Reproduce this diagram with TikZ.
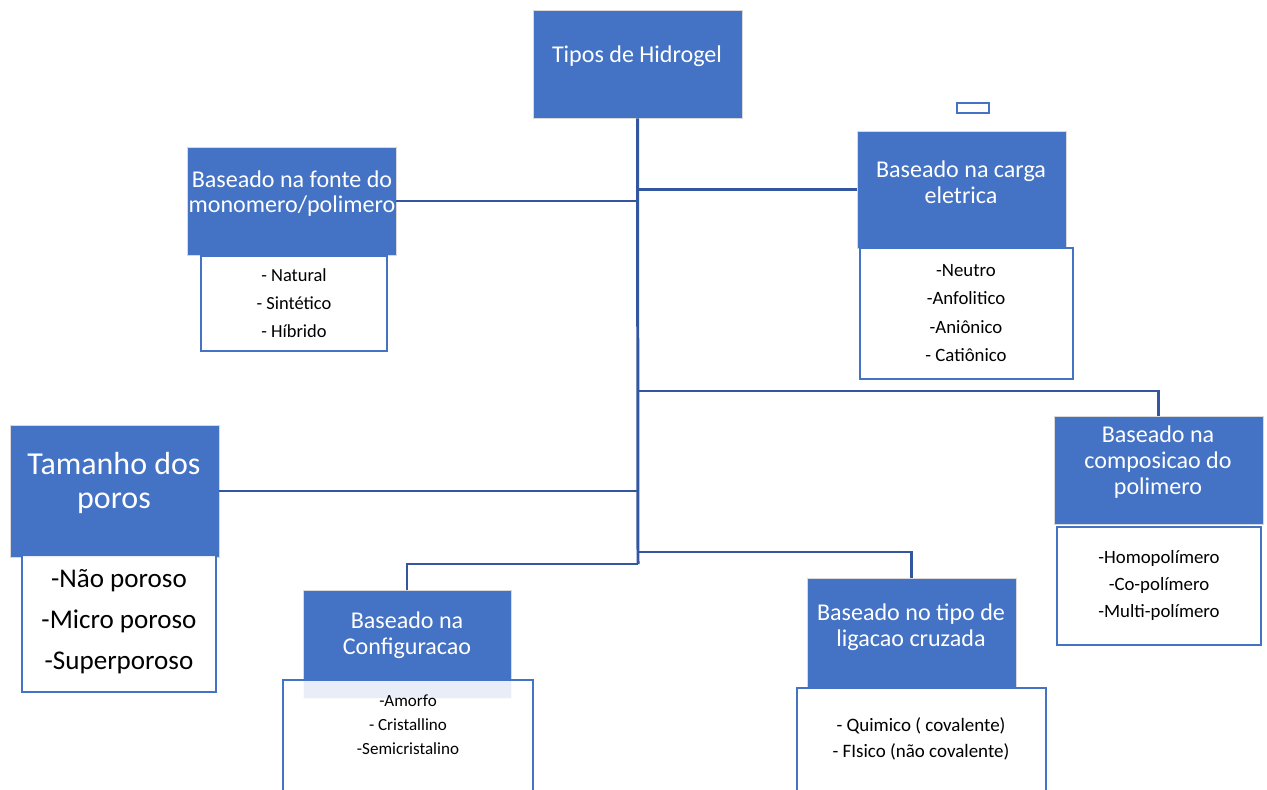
\documentclass[tikz,border=0pt]{standalone}
\usepackage{fontspec}
\setmainfont{Carlito}
\usetikzlibrary{positioning,calc}
\definecolor{hdblue}{RGB}{68,114,196}
\definecolor{hdline}{RGB}{50,86,160}
\newlength\pxu
\setlength\pxu{0.02cm}
\tikzset{
  bluebox/.style={draw=black!15, line width=0.5pt, fill=hdblue, inner sep=0pt, minimum width=209\pxu},
  listbox/.style={draw=hdblue, line width=1.2pt, fill=white, fill opacity=.88, inner sep=0pt},
  headtxt/.style={text=white, align=center, font=\fontsize{13.7}{14.7}\selectfont},
  itemtxt/.style={align=center},
  link/.style={draw=hdline, line width=1.7pt},
}
\begin{document}
\begin{tikzpicture}[x=0.02cm, y=-0.02cm]
  \useasboundingbox (0,0) rectangle (1267,790);
  % category boxes
  \node[bluebox, minimum height=108\pxu] (title) at (637.5,64) {};
  \node[bluebox, minimum height=108\pxu] (fonte) at (291.5,201) {};
  \node[bluebox, minimum height=117\pxu] (carga) at (961.5,189.5) {};
  \node[bluebox, minimum height=108\pxu] (comp) at (1158.5,470) {};
  \node[bluebox, minimum height=132\pxu] (tam) at (114.5,491) {};
  \node[bluebox, minimum height=108\pxu, minimum width=208\pxu] (conf) at (407,644) {};
  \node[bluebox, minimum height=110\pxu] (lig) at (911.5,633) {};
  \node[draw=hdblue, line width=1.2pt, fill=white, minimum width=32\pxu, minimum height=10\pxu, inner sep=0pt] (stray) at (973,108) {};
  % list boxes
  \node[listbox, minimum width=186\pxu, minimum height=95\pxu] (fontel) at (294,303.5) {};
  \node[listbox, minimum width=213\pxu, minimum height=131\pxu] (cargal) at (966.5,313.5) {};
  \node[listbox, minimum width=204\pxu, minimum height=118\pxu] (compl) at (1159,586) {};
  \node[listbox, minimum width=194\pxu, minimum height=137\pxu] (taml) at (119,623.5) {};
  \node[listbox, minimum width=250\pxu, minimum height=120\pxu] (confl) at (408,740) {};
  \node[listbox, minimum width=249\pxu, minimum height=112\pxu] (ligl) at (921.5,744) {};
  % headings
  \node[headtxt] (titlet) at (637,56) {Tipos de Hidrogel};
  \node[headtxt] (fontet) at (292,193.5) {Baseado na fonte do\\monomero/polimero};
  \node[headtxt] (cargat) at (961,182) {Baseado na carga\\eletrica};
  \node[headtxt] (compt) at (1158,462) {Baseado na\\composicao do\\polimero};
  \node[headtxt, font=\fontsize{18.2}{19.3}\selectfont] (tamt) at (114,483) {Tamanho dos\\poros};
  \node[headtxt] (conft) at (407,635) {Baseado na\\Configuracao};
  \node[headtxt] (ligt) at (911,627.5) {Baseado no tipo de\\ligacao cruzada};
  % items
  \node[itemtxt, font=\fontsize{10.5}{15.9}\selectfont] (fontei) at (294,303) {- Natural\\- Sintético\\- Híbrido};
  \node[itemtxt, font=\fontsize{10.7}{16.3}\selectfont] (cargai) at (966,313) {-Neutro\\-Anfolitico\\-Aniônico\\- Catiônico};
  \node[itemtxt, font=\fontsize{10.7}{15.6}\selectfont] (compi) at (1159,585.5) {-Homopolímero\\-Co-polímero\\-Multi-polímero};
  \node[itemtxt, font=\fontsize{15.4}{23.5}\selectfont] (tami) at (119,621.5) {-Não poroso\\-Micro poroso\\-Superporoso};
  \node[itemtxt, font=\fontsize{9.7}{13.6}\selectfont] (confi) at (408,725) {-Amorfo\\- Cristallino\\-Semicristalino};
  \node[itemtxt, font=\fontsize{10.8}{14.7}\selectfont] (ligi) at (921,739) {- Quimico ( covalente)\\- FIsico (não covalente)};
  % connectors
  \coordinate (jcomp) at (638,391);
  \coordinate (jlig) at (638,552);
  \coordinate (jconf) at (638,564);
  \draw[link] (title.south) -- (jconf);
  \draw[link] (fonte.east) -- (fonte.east -| jconf);
  \draw[link] (carga.west) -- (carga.west -| jconf);
  \draw[link] (jcomp) -| (comp.north);
  \draw[link] (tam.east) -- (tam.east -| jconf);
  \draw[link] (jlig) -| (lig.north);
  \draw[link] (jconf) -| (conf.north);
\end{tikzpicture}
\end{document}
